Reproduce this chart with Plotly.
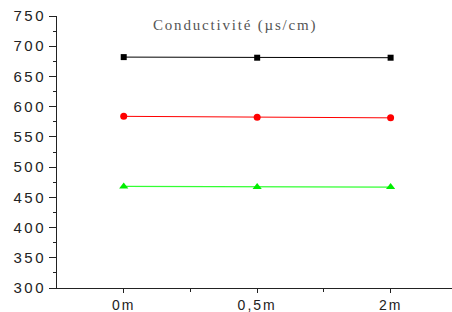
import plotly.graph_objects as go

categories = ["0m", "0,5m", "2m"]
black_vals = [682, 681, 681]
red_vals = [584, 582.5, 581.5]
green_vals = [468, 467, 467]
y_ticks = list(range(300, 751, 50))
title_text = "Conductivité (µs/cm)"

xpos = list(range(len(categories)))


def spaced(t, px):
    return '<span style="letter-spacing:%spx">%s</span>' % (px, t)


fig = go.Figure()
fig.add_trace(go.Scatter(x=xpos, y=black_vals, mode="lines+markers",
                         line=dict(color="black", width=1),
                         marker=dict(symbol="square", size=6, color="black")))
fig.add_trace(go.Scatter(x=xpos, y=red_vals, mode="lines+markers",
                         line=dict(color="#ff0000", width=1),
                         marker=dict(symbol="circle", size=7, color="#ff0000")))
fig.add_trace(go.Scatter(x=xpos, y=green_vals, mode="lines+markers",
                         line=dict(color="#33ff33", width=1.2),
                         marker=dict(symbol="triangle-up", size=8, color="#00ee00")))

axis_color = "#222"
L, R, T, B = 57, 0, 16, 24
W, H = 452, 312
fig.update_layout(
    width=W, height=H,
    margin=dict(l=L, r=R, t=T, b=B),
    paper_bgcolor="white", plot_bgcolor="white",
    showlegend=False,
    font=dict(family="Liberation Sans", size=15, color="#222"),
    xaxis=dict(range=[-0.5, 2.46], tickvals=xpos,
               ticktext=[spaced(c, 2) for c in categories],
               tickfont=dict(size=14),
               automargin=False,
               showgrid=False, zeroline=False, showline=True, linecolor=axis_color,
               linewidth=1, ticks="outside", ticklen=4, tickcolor=axis_color,
               minor=dict(tickvals=[0.5, 1.5], ticks="outside", ticklen=3, tickcolor=axis_color)),
    yaxis=dict(range=[300, 750], tickvals=y_ticks,
               ticktext=[spaced(str(v), 2.5) for v in y_ticks],
               automargin=False,
               showgrid=False, zeroline=False, showline=True, linecolor=axis_color,
               linewidth=1, ticks="outside", ticklen=7, tickcolor=axis_color,
               minor=dict(dtick=25, ticks="outside", ticklen=3, tickcolor=axis_color)),
    annotations=[dict(text=spaced(title_text, 1.8),
                      x=(235 - L) / (W - L - R), y=1 - (26 - T) / (H - T - B),
                      xref="paper", yref="paper", xanchor="center", yanchor="middle",
                      showarrow=False,
                      font=dict(family="Liberation Serif", size=15, color="#555"))],
)

fig.write_html("out.html", config={"displayModeBar": False},
               post_script="document.body.style.margin='0px';")
